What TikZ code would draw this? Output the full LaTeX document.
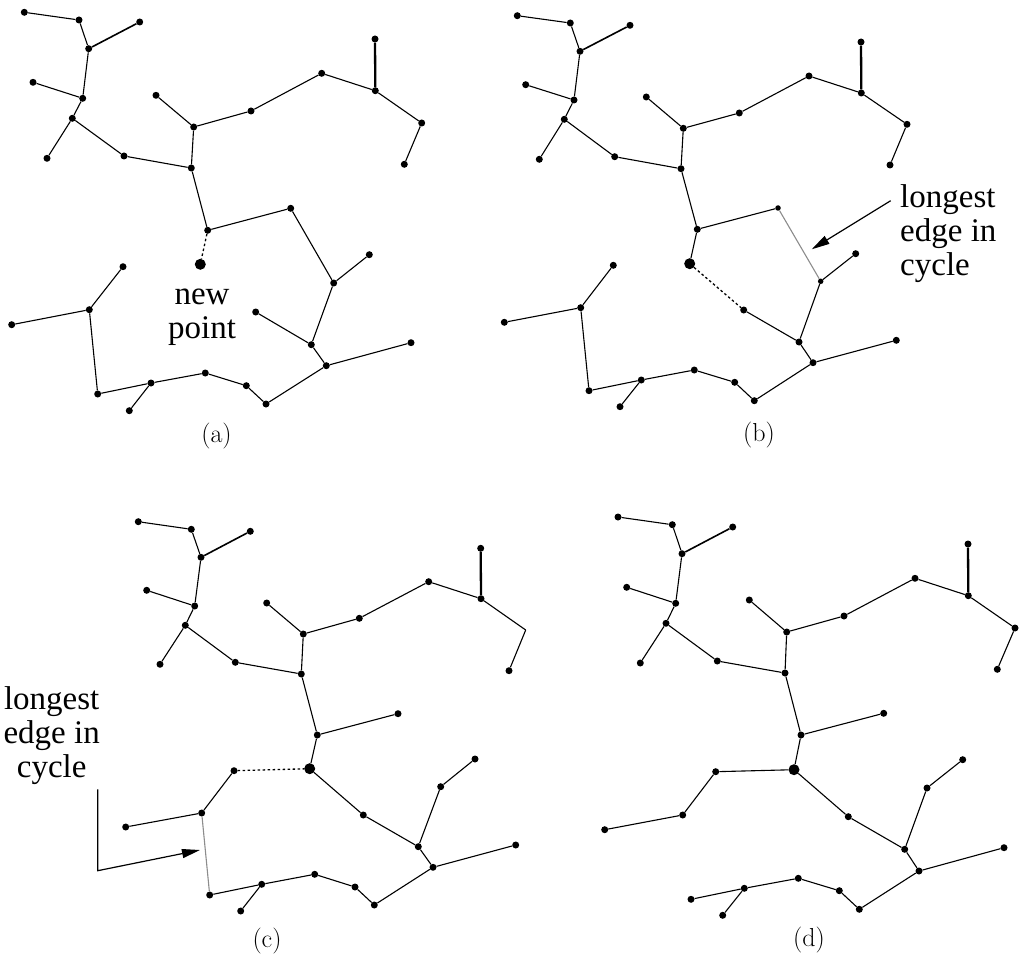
\documentclass[tikz,border=0pt]{standalone}
\usepackage{fontspec}
\newfontfamily\tms{Liberation Serif}
\usetikzlibrary{arrows.meta}
\begin{document}
\begin{tikzpicture}[x=1pt,y=-1pt,
  dot/.style={circle, fill=black, inner sep=0pt, minimum size=7pt},
  smalldot/.style={circle, fill=black, inner sep=0pt, minimum size=5.5pt},
  bigdot/.style={circle, fill=black, inner sep=0pt, minimum size=11pt},
  edge/.style={line width=1.1pt},
  midedge/.style={line width=1.6pt},
  thkedge/.style={line width=2.3pt},
  longedge/.style={line width=1.1pt, draw=black!45},
  dotedge/.style={line width=1.3pt, dash pattern=on 2.5pt off 2.5pt},
  lbl/.style={font=\tms\fontsize{33}{34}\selectfont, inner sep=0pt},
  captext/.style={font=\fontsize{26}{30}\selectfont, inner sep=0pt},
  arrowline/.style={line width=1.2pt, -{Triangle[length=18pt,width=9pt]}}]
\useasboundingbox (0,0) rectangle (1020,960);

% ---------- panel (a)
\foreach \n/\x/\y in {a1/24.3/12.3, a2/79/20, a3/139.7/22, a4/88.7/48.7, a5/33/82.3,
  a6/82.7/98.3, a7/72.3/118.3, a8/47/158.3, a9/124/156, a10/191.3/168, a11/193.7/127,
  a12/156/95.3, a13/251/111, a14/321.7/73.3, a15/375.3/90.7, a16/375/39, a17/421.7/123,
  a18/404.3/164.3, a19/207.7/230.3, a20/290.7/208.3, a21/333.7/283, a22/369.3/254.7,
  a23/255.7/312, a24/311.3/344.7, a25/326.3/365.7, a26/411/342.7, a27/266/404,
  a28/246.3/385.7, a29/205.3/373, a30/151/383, a31/129.3/410.7, a32/97.7/394,
  a33/89.3/309.7, a34/123/266.7, a35/11.7/324.7}
  \node[dot] (\n) at (\x,\y) {};
\node[bigdot] (an) at (200.3,264.3) {};

% ---------- panel (b)
\foreach \n/\x/\y in {b1/517.3/15.7, b2/570.3/23, b3/630/25.3, b4/580/51.3, b5/525.7/84.7,
  b6/574/100, b7/564.3/119.3, b8/539.3/159.3, b9/614.7/156.7, b10/681/168.7, b11/683.3/128.3,
  b12/646.3/97, b13/739.3/113, b14/809/76, b15/861.3/93, b16/861/42, b17/907/124.3,
  b18/890/165, b19/697.3/229.3, b22/855.7/253.7,
  b23/743.7/310, b24/799/342, b25/813/362.7, b26/896.3/340.3, b27/754.3/400.7,
  b28/734.7/382.3, b29/694.3/370, b30/641.3/380, b31/620/406.7, b32/589/390.7,
  b33/580.7/307.7, b34/613.3/265.3, b35/504.3/322.3}
  \node[dot] (\n) at (\x,\y) {};
\node[smalldot] (b20) at (778,208) {};
\node[smalldot] (b21) at (820.7,281.3) {};
\node[bigdot] (bn) at (689.7,263.7) {};

% ---------- panel (c)
\foreach \n/\x/\y in {c1/138.3/521.7, c2/191.3/529.3, c3/250.3/531.3, c4/201/557.3,
  c5/146.7/590.3, c6/194.7/606, c7/185.3/625.3, c8/160/664.3, c9/235.3/662.3,
  c10/301.3/674, c11/303.3/634, c12/266.7/603, c13/359.3/618.3, c14/428.7/581.7,
  c15/481/598.7, c16/480.7/548.3, c18/509/670.7, c19/317.3/735,
  c20/398/713.7, c21/440.7/786.7, c22/475/759, c23/363.3/815, c24/418.3/846.7,
  c25/433/867.3, c26/515.7/845, c27/374.3/905, c28/355/887, c29/314.7/874.3,
  c30/261.7/884.3, c31/240.7/911, c32/209.7/895, c33/201.7/813, c34/234/770.7,
  c35/125.7/827}
  \node[dot] (\n) at (\x,\y) {};
\coordinate (c17) at (525.7,630);
\node[bigdot] (cn) at (309.7,768.7) {};

% ---------- panel (d)
\foreach \n/\x/\y in {d1/618/517, d2/672.3/524.7, d3/732.7/527, d4/682/553.7,
  d5/626.7/587.3, d6/675.7/603.3, d7/666/623.3, d8/640.3/663, d9/717.3/661,
  d10/785/673, d11/786.7/632, d12/749.3/600, d13/844/616, d14/915/578.3,
  d15/968.3/595.7, d16/968/544, d17/1015/628, d18/997.3/669.3, d19/801/735,
  d20/883.7/713.3, d21/927/788, d22/962.7/759.7, d23/848.3/816.7, d24/904.7/849.3,
  d25/919/871, d26/1004/847.7, d27/859.3/909.3, d28/839.3/890.7, d29/798.3/878.3,
  d30/744.3/888.3, d31/722.7/915.3, d32/691/899.3, d33/682.7/815, d34/715.7/771.7,
  d35/604.7/829.7}
  \node[dot] (\n) at (\x,\y) {};
\node[bigdot] (dn) at (794,769.7) {};

% ---------- common tree edges
\foreach \p in {a,b,c,d} {
  \foreach \u/\v in {1/2, 2/4, 4/6, 5/6, 6/7, 7/8, 7/9, 9/10, 10/11, 11/12, 11/13,
    13/14, 14/15, 15/17, 17/18, 10/19, 19/20, 21/22, 21/24, 23/24, 24/25, 25/26, 25/27,
    27/28, 28/29, 29/30, 30/31, 30/32, 33/34, 33/35}
    \draw[edge] (\p\u) -- (\p\v);
  \draw[midedge] (\p3) -- (\p4);
  \draw[thkedge] (\p15) -- (\p16);
}

% ---------- panel specific edges
\draw[edge] (a20) -- (a21);
\draw[edge] (a32) -- (a33);
\draw[dotedge] (a19) -- (an);

\draw[longedge] (b20) -- (b21);
\draw[edge] (b32) -- (b33);
\draw[edge] (b19) -- (bn);
\draw[dotedge] (bn) -- (b23);

\draw[edge] (c19) -- (cn);
\draw[edge] (cn) -- (c23);
\draw[longedge] (c32) -- (c33);
\draw[dotedge] (c34) -- (cn);

\draw[edge] (d19) -- (dn);
\draw[edge] (dn) -- (d23);
\draw[edge] (d34) -- (dn);

% ---------- labels (anchored at the baseline of the last line)
\node[lbl, align=center, anchor=base] (newlbl) at (202,338.3) {new\\point};
\node[lbl, align=left, anchor=base west] (blbl) at (900,275) {longest\\edge in\\cycle};
\node[lbl, align=center, anchor=base] (clbl) at (51.7,777.7) {longest\\edge in\\cycle};

\coordinate (bA1) at (890.7,200.7);
\coordinate (bA2) at (811.7,249.3);
\draw[arrowline] (bA1) -- (bA2);
\coordinate (cA1) at (97.7,789.3);
\coordinate (cA2) at (97.7,870.7);
\coordinate (cA3) at (200,850);
\draw[arrowline] (cA1) -- (cA2) -- (cA3);

\node[captext] (capa) at (216.5,436) {(a)};
\node[captext] (capb) at (759,435.5) {(b)};
\node[captext] (capc) at (267,941) {(c)};
\node[captext] (capd) at (809,940) {(d)};
\end{tikzpicture}
\end{document}
